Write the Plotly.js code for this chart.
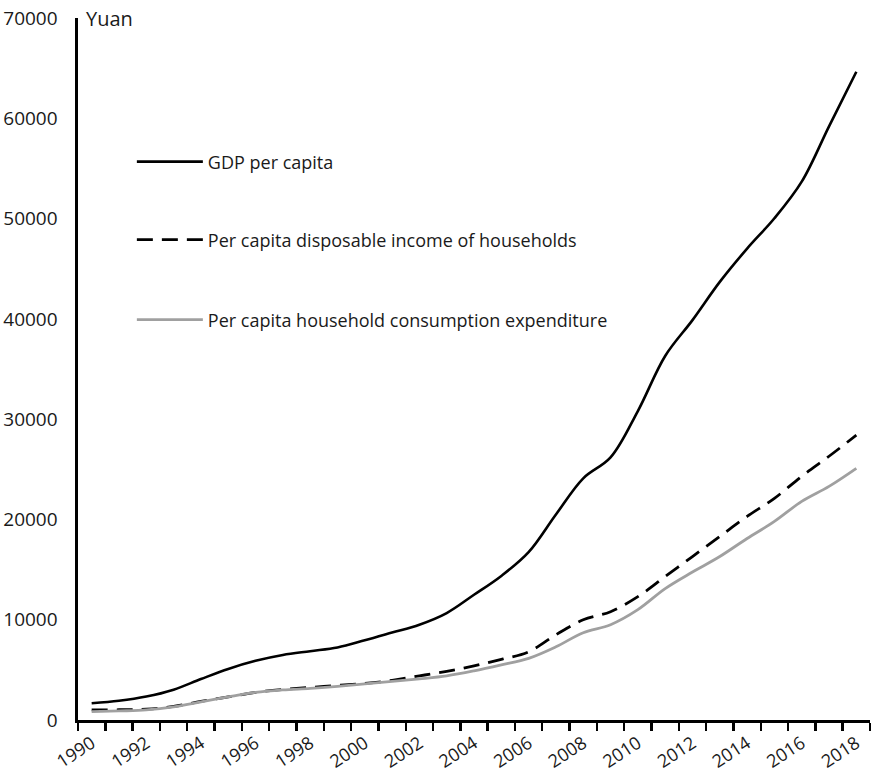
<!DOCTYPE html>
<html>
<head>
<meta charset="utf-8">
<script src="https://cdn.plot.ly/plotly-3.0.1.min.js"></script>
<style>html,body{margin:0;padding:0;background:#fff;}#chart{width:871px;height:776px;}</style>
</head>
<body>
<div id="chart"></div>
<script>
var years = [1990,1991,1992,1993,1994,1995,1996,1997,1998,1999,2000,2001,2002,2003,2004,2005,2006,2007,2008,2009,2010,2011,2012,2013,2014,2015,2016,2017,2018];
var gdpPerCapita = [1663,1912,2334,3027,4081,5091,5898,6481,6860,7229,7942,8717,9506,10666,12487,14368,16738,20494,24100,26180,30808,36302,39874,43684,47005,50028,53680,59201,64644];
var disposableIncome = [1000,1020,1080,1350,1850,2300,2750,3050,3250,3450,3650,3950,4400,4850,5400,6050,6800,8500,10000,10800,12300,14300,16300,18300,20300,22100,24300,26300,28400];
var consumptionExpenditure = [830,900,1000,1300,1800,2300,2750,3000,3150,3350,3600,3850,4100,4400,4900,5500,6150,7300,8700,9500,11000,13100,14750,16300,18100,19800,21800,23300,25100];
var evenYearTicks = [1990,1992,1994,1996,1998,2000,2002,2004,2006,2008,2010,2012,2014,2016,2018];
var seriesNames = ["GDP per capita","Per capita disposable income of households","Per capita household consumption expenditure"];

var FONT = "Open Sans, Noto Sans, sans-serif";
var traces = [
  {x: years, y: gdpPerCapita, name: seriesNames[0], type: "scatter", mode: "lines",
   line: {color: "#000000", width: 2.6, shape: "spline", smoothing: 1}, legend: "legend"},
  {x: years, y: disposableIncome, name: seriesNames[1], type: "scatter", mode: "lines",
   line: {color: "#000000", width: 2.8, dash: "16px,9px", shape: "spline", smoothing: 1}, legend: "legend2"},
  {x: years, y: consumptionExpenditure, name: seriesNames[2], type: "scatter", mode: "lines",
   line: {color: "#a0a0a0", width: 2.8, shape: "spline", smoothing: 1}, legend: "legend3"}
];

function leg(y) {
  return {x: 0.068, y: y, xanchor: "left", yanchor: "middle", bgcolor: "rgba(0,0,0,0)",
          font: {family: FONT, size: 18, color: "#1a1a1a"}, itemwidth: 66, itemclick: false};
}

var layout = {
  width: 871, height: 776,
  margin: {l: 78, r: 1, t: 18, b: 56},
  paper_bgcolor: "#ffffff", plot_bgcolor: "#ffffff",
  font: {family: FONT, size: 18, color: "#1a1a1a"},
  showlegend: true,
  legend: leg(0.795),
  legend2: leg(0.684),
  legend3: leg(0.570),
  xaxis: {
    range: [1989.5, 2018.5],
    tickmode: "array", tickvals: evenYearTicks, ticktext: evenYearTicks.map(String),
    ticks: "", tickangle: -33, ticklabelstandoff: 3,
    tickfont: {family: FONT, size: 18, color: "#1a1a1a"},
    showgrid: false, zeroline: false,
    showline: true, linecolor: "#000000", linewidth: 3,
    minor: {tick0: 1989.5, dtick: 1, ticks: "outside", ticklen: 8, tickwidth: 2.4, tickcolor: "#000000", showgrid: false}
  },
  yaxis: {
    range: [0, 70000], dtick: 10000, tick0: 0, tickformat: "d",
    ticks: "", ticklabelstandoff: 14,
    tickfont: {family: FONT, size: 19, color: "#1a1a1a"},
    showgrid: false, zeroline: false,
    showline: true, linecolor: "#000000", linewidth: 2.6
  },
  annotations: [
    {text: "Yuan", xref: "paper", yref: "paper", x: 0, y: 1, xanchor: "left", yanchor: "middle",
     xshift: 6, yshift: 0, showarrow: false, font: {family: FONT, size: 20, color: "#1a1a1a"}}
  ]
};

Plotly.newPlot("chart", traces, layout, {displayModeBar: false, staticPlot: true});
</script>
</body>
</html>
